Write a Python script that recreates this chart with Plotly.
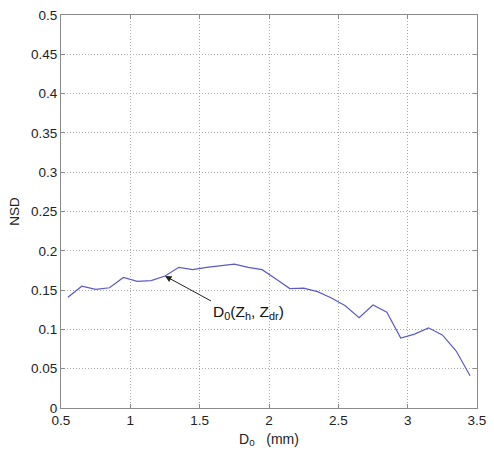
import plotly.graph_objects as go

# Normalised standard deviation of the D0 estimate versus D0
d0_mm = [0.55, 0.65, 0.75, 0.85, 0.95, 1.05, 1.15, 1.25, 1.35, 1.45,
         1.55, 1.65, 1.75, 1.85, 1.95, 2.05, 2.15, 2.25, 2.35, 2.45,
         2.55, 2.65, 2.75, 2.85, 2.95, 3.05, 3.15, 3.25, 3.35, 3.45]
nsd = [0.141, 0.155, 0.151, 0.153, 0.166, 0.161, 0.162, 0.168, 0.179, 0.176,
       0.179, 0.181, 0.183, 0.179, 0.176, 0.164, 0.152, 0.1525, 0.148, 0.140,
       0.130, 0.115, 0.131, 0.122, 0.089, 0.094, 0.102, 0.093, 0.0725, 0.041]

x_ticks = [0.5, 1, 1.5, 2, 2.5, 3, 3.5]
x_tick_text = ["0.5", "1", "1.5", "2", "2.5", "3", "3.5"]
y_ticks = [0, 0.05, 0.1, 0.15, 0.2, 0.25, 0.3, 0.35, 0.4, 0.45, 0.5]
y_tick_text = ["0", "0.05", "0.1", "0.15", "0.2", "0.25", "0.3", "0.35", "0.4", "0.45", "0.5"]

label_text = "D<sub>0</sub>(Z<sub>h</sub>, Z<sub>dr</sub>)"
label_point = (1.25, 0.168)

FONT = "Liberation Sans, Arial, sans-serif"

fig = go.Figure()
fig.add_trace(go.Scatter(
    x=d0_mm, y=nsd, mode="lines",
    line=dict(color="#5a5ac8", width=1.2),
    showlegend=False, hoverinfo="skip",
))

axis_common = dict(
    showline=True, linecolor="#8a8a8a", linewidth=1, mirror="ticks",
    ticks="inside", ticklen=4, tickcolor="#8a8a8a",
    showgrid=True, gridcolor="#a8a8a8", gridwidth=1, griddash="1px,2px",
    zeroline=False,
    tickfont=dict(family=FONT, size=13.5, color="#222"),
)

fig.update_xaxes(
    range=[0.5, 3.5], tickvals=x_ticks, ticktext=x_tick_text,
    title=dict(text="D<sub>0</sub>&nbsp;&nbsp;&nbsp;(mm)", standoff=6,
               font=dict(family=FONT, size=14, color="#222")),
    **axis_common,
)
fig.update_yaxes(
    range=[0, 0.5], tickvals=y_ticks, ticktext=y_tick_text,
    title=dict(text="NSD", standoff=8,
               font=dict(family=FONT, size=13.5, color="#222")),
    **axis_common,
)

fig.add_annotation(
    x=label_point[0], y=label_point[1], xref="x", yref="y",
    text=label_text, showarrow=True,
    ax=46, ay=25, xanchor="left", yanchor="top",
    arrowhead=2, arrowsize=1.3, arrowwidth=1, arrowcolor="#222",
    font=dict(family=FONT, size=15.5, color="#111"),
)

fig.update_layout(
    width=494, height=455,
    margin=dict(l=61, r=10, t=8, b=47),
    paper_bgcolor="white", plot_bgcolor="white",
)

fig.write_html("out.html")
